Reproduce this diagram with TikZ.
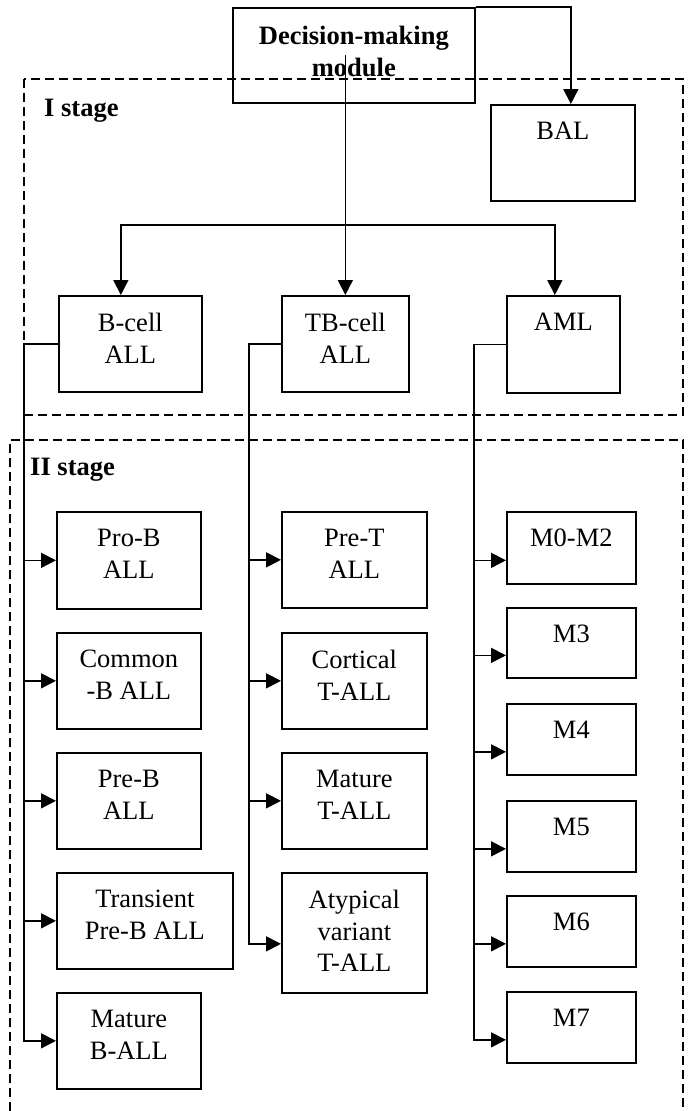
\documentclass[tikz,border=0pt]{standalone}
\usepackage{fontspec}
\setmainfont{Liberation Serif}
\usetikzlibrary{arrows.meta}
\newcommand\bx[6]{%
  \node[boxst, minimum width=#4pt, minimum height=#5pt] (#1) at (#2,#3) {};
  \node[txt] (#1t) at ([yshift=-18pt]#1.north) {#6};}
\begin{document}
\begin{tikzpicture}[x=1pt,y=-1pt,
  boxst/.style={draw, line width=1.7pt, anchor=north west, inner sep=0pt},
  txt/.style={anchor=north, align=center, inner sep=0pt, font=\fontsize{26.5}{31.5}\selectfont},
  conn/.style={line width=1.6pt},
  arr/.style={conn, -{Triangle[length=15pt,width=15pt]}},
  stage/.style={line width=1.3pt, dash pattern=on 9pt off 5pt},
  stagelbl/.style={anchor=base west, inner sep=0pt, font=\fontsize{26.5}{31.5}\selectfont\bfseries}]
\useasboundingbox (0,0) rectangle (688,1111);
% stages
\draw[stage] (24,79) rectangle (683,415);
\draw[stage] (10,1111) -- (10,440) -- (683,440) -- (683,1111);
\node[stagelbl] (s1) at (44,116) {I stage};
\node[stagelbl] (s2) at (30,475) {II stage};
% boxes
\node[boxst, minimum width=242pt, minimum height=95pt] (dm) at (232,7) {};
\node[txt, font=\fontsize{26.5}{31.5}\selectfont\bfseries] (dmt) at ([yshift=-19pt]dm.north) {Decision-making\\module};
\bx{bal}{490}{104}{144}{96}{BAL}
\bx{bcell}{58}{295}{143}{96}{B-cell\\ALL}
\bx{tbcell}{281}{295}{127}{96}{TB-cell\\ALL}
\bx{aml}{506}{295}{113}{97}{AML}
\bx{prob}{56}{511}{144}{97}{Pro-B\\ALL}
\bx{comb}{56}{632}{144}{96}{Common\\-B ALL}
\bx{preb}{56}{752}{144}{96}{Pre-B\\ALL}
\bx{trb}{56}{872}{176}{96}{Transient\\Pre-B ALL}
\bx{matb}{56}{992}{144}{96}{Mature\\B-ALL}
\bx{pret}{281}{511}{145}{96}{Pre-T\\ALL}
\bx{cort}{281}{632}{145}{96}{Cortical\\T-ALL}
\bx{matt}{281}{752}{145}{96}{Mature\\T-ALL}
\bx{atyp}{281}{872}{145}{120}{Atypical\\variant\\T-ALL}
\bx{mA}{506}{511}{129}{72}{M0-M2}
\bx{mB}{506}{607}{129}{70}{M3}
\bx{mC}{506}{703}{129}{71}{M4}
\bx{mD}{506}{800}{129}{71}{M5}
\bx{mE}{506}{895}{129}{71}{M6}
\bx{mF}{506}{991}{129}{71}{M7}
% top connectors
\coordinate (balin) at ([xshift=8pt]bal.north);
\draw[arr] (dm.north east) -| (balin);
\coordinate (dms) at (tbcell.north |- dm.center);
\path (tbcell.north) ++(0,-70) coordinate (jn);
\draw[arr] (dms) -- (tbcell.north);
\coordinate (bin) at ([xshift=-9.5pt]bcell.north);
\coordinate (amlin) at ([xshift=-8.5pt]aml.north);
\draw[arr] (jn) -| (bin);
\draw[arr] (jn) -| (amlin);
% trunks
\coordinate (tl) at (24,0);
\coordinate (tm) at (249,0);
\coordinate (tr) at (474,0);
\draw[arr] (bcell.west) -| (tl |- matb.west) -- (matb.west);
\foreach \n in {prob,comb,preb,trb}{\draw[arr] (tl |- \n.west) -- (\n.west);}
\coordinate (atypa) at ([yshift=-11pt]atyp.west);
\draw[arr] (tbcell.west) -| (tm |- atypa) -- (atypa);
\foreach \n in {pret,cort,matt}{\draw[arr] (tm |- \n.west) -- (\n.west);}
\foreach \n in {mA,mB,mC,mD,mE,mF}{\coordinate (\n a) at ([yshift=-12.5pt]\n.west);}
\draw[arr] (aml.west) -| (tr |- mFa) -- (mFa);
\foreach \n in {mA,mB,mC,mD,mE}{\draw[arr] (tr |- \n a) -- (\n a);}
\end{tikzpicture}
\end{document}
